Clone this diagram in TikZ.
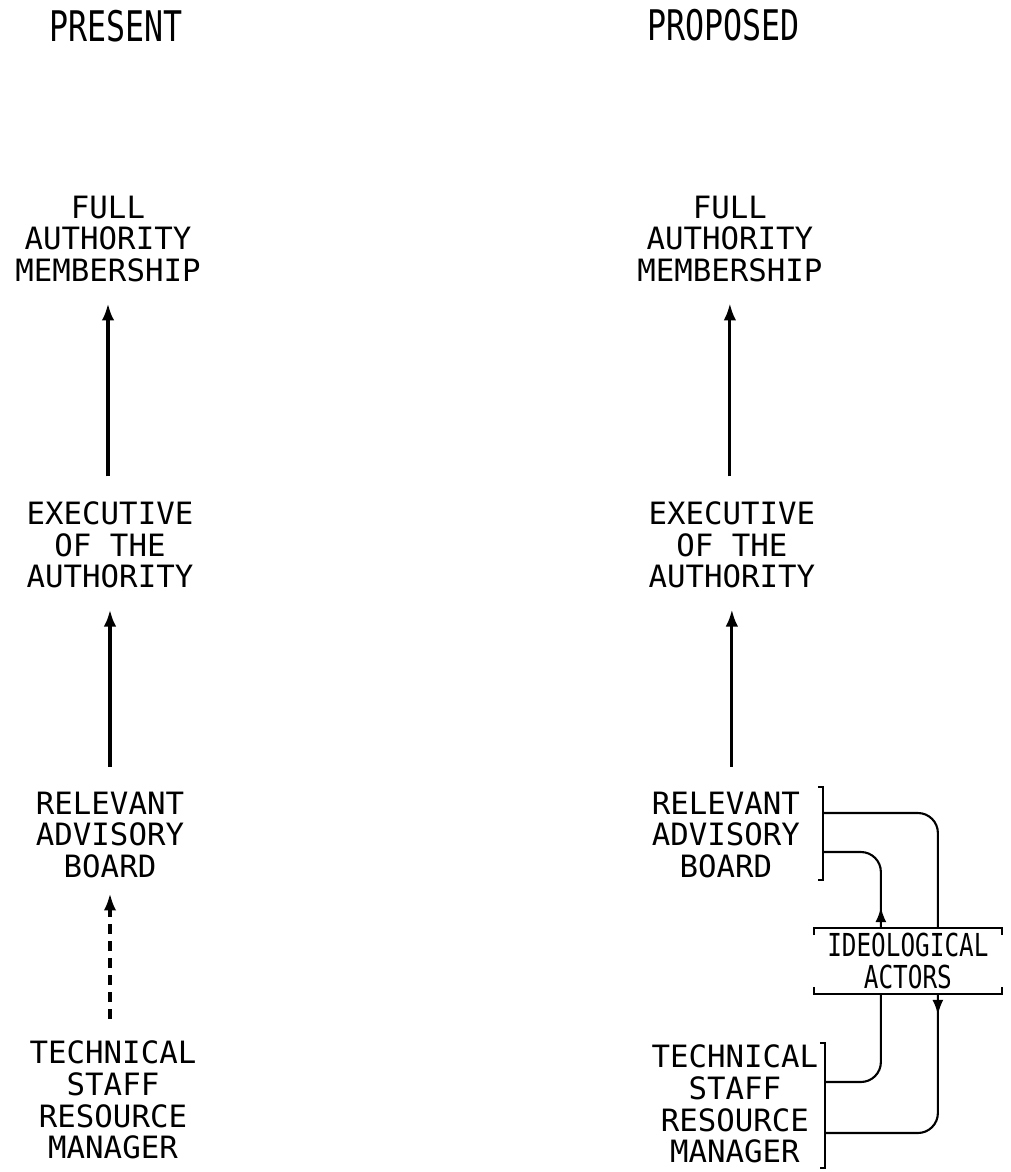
\documentclass[tikz,border=0pt]{standalone}
\usepackage{fontspec}
\setmonofont{DejaVu Sans Mono}
\usepackage{tikz}
\usetikzlibrary{arrows.meta,decorations.markings,calc}

\newcommand{\typefont}{\fontsize{17.5}{18}\selectfont\ttfamily}
\newcommand{\headfont}{\fontsize{24}{24}\selectfont\ttfamily}
\newcommand{\actorfont}{\fontsize{18}{18.5}\selectfont\ttfamily}
\newcommand{\squeeze}[2][0.75]{\scalebox{#1}[1]{#2}}

\begin{document}
\begin{tikzpicture}[x=0.02cm, y=0.02cm,
		lbl/.style={font=\typefont, align=center, inner sep=0pt},
		up/.style={line width=2pt, -{Latex[length=0.34cm,width=0.25cm]}, shorten >=0.42cm, shorten <=0.5cm},
		dashup/.style={up, dash pattern=on 0.2cm off 0.14cm, shorten >=0.3cm, shorten <=0.44cm},
		link/.style={line width=1.2pt, rounded corners=0.4cm},
		brk/.style={line width=1pt},
		idbox/.style={font=\actorfont, align=center, inner sep=0pt, minimum width=3.74cm, minimum height=1.3cm},
		tipat/.style={postaction={decorate}, decoration={markings, mark=at position 0.42cm with {\arrow{Latex[length=0.3cm,width=0.22cm]}}}}]

		\useasboundingbox (0,0) rectangle (1010,-1172);

		\begin{scope}
			\node[font=\headfont] (present) at (116,-26) {\squeeze{PRESENT}};
			\node[lbl] (fullL) at (108,-239) {FULL\\AUTHORITY\\MEMBERSHIP};
			\node[lbl] (execL) at (110,-545) {EXECUTIVE\\OF THE\\AUTHORITY};
			\node[lbl] (boardL) at (110,-835) {RELEVANT\\ADVISORY\\BOARD};
			\node[lbl] (techL) at (113,-1100) {TECHNICAL\\STAFF\\RESOURCE\\MANAGER};

			\draw[up] (execL.north -| fullL.south) -- (fullL.south);
			\draw[up] (boardL.north) -- (boardL.north |- execL.south);
			\draw[dashup] (techL.north -| boardL.south) -- (boardL.south);
		\end{scope}

		\begin{scope}[xshift=12.4cm]
			\node[font=\headfont] (proposed) at (104,-25) {\squeeze{PROPOSED}};
			\node[lbl] (fullR) at (110,-239) {FULL\\AUTHORITY\\MEMBERSHIP};
			\node[lbl] (execR) at (112,-545) {EXECUTIVE\\OF THE\\AUTHORITY};
			\node[lbl] (boardR) at (106,-835) {RELEVANT\\ADVISORY\\BOARD};
			\node[lbl] (techR) at (115,-1104) {TECHNICAL\\STAFF\\RESOURCE\\MANAGER};

			\draw[up, line width=1.7pt] (execR.north -| fullR.south) -- (fullR.south);
			\draw[up, line width=1.7pt] (boardR.north -| execR.south) -- (execR.south);

			\coordinate (boardTop) at (203,-787);
			\coordinate (boardBot) at (203,-880);
			\coordinate (boardOut) at (203,-813);
			\coordinate (boardIn) at (203,-852);
			\draw[brk] ([xshift=-0.1cm]boardTop) -- (boardTop) -- (boardBot) -- ++(-5,0);

			\coordinate (techTop) at (205,-1043);
			\coordinate (techBot) at (205,-1168);
			\coordinate (techOut) at (205,-1082);
			\coordinate (techIn) at (205,-1133);
			\draw[brk] ([xshift=-0.1cm]techTop) -- (techTop) -- (techBot) -- ++(-5,0);

			\node[idbox] (ideo) at (288,-961) {\squeeze[0.77]{IDEOLOGICAL}\\\squeeze[0.77]{ACTORS}};
			\draw[brk] ([yshift=-0.14cm]ideo.north west) -- (ideo.north west) -- (ideo.north east) -- ++(0,-7);
			\draw[brk] ([yshift=0.14cm]ideo.south west) -- (ideo.south west) -- (ideo.south east) -- ++(0,7);

			\coordinate (colA) at (261,0);
			\coordinate (colB) at (318,0);
			\draw[link] (ideo.north -| colB) |- (boardOut);
			\draw[link, tipat] (ideo.north -| colA) |- (boardIn);
			\draw[link] (ideo.south -| colA) |- (techOut);
			\draw[link, tipat] (ideo.south -| colB) |- (techIn);
		\end{scope}
	\end{tikzpicture}
\end{document}
